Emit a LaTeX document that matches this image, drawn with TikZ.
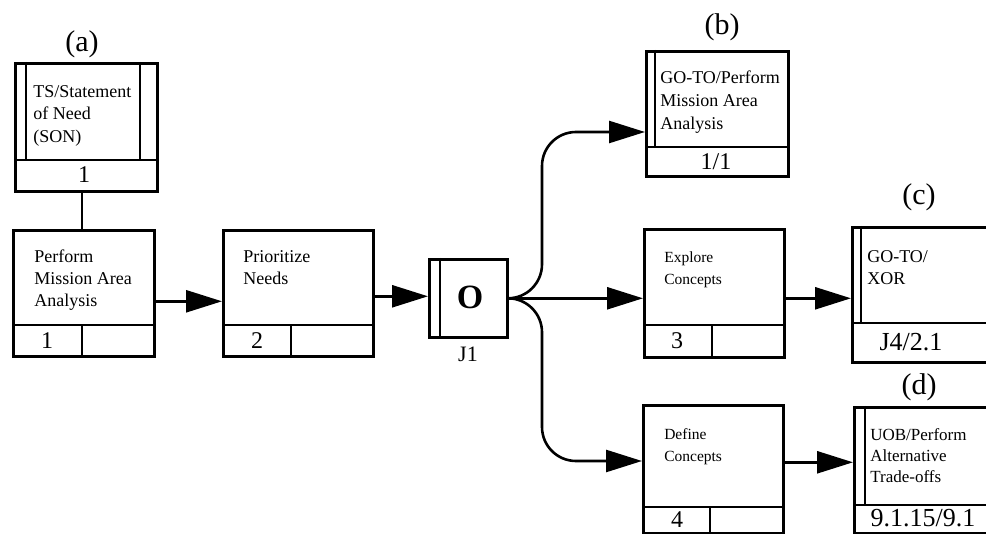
\documentclass[tikz,border=0pt]{standalone}
\usepackage{fontspec}
\setmainfont{Liberation Serif}
\usetikzlibrary{arrows.meta,calc}
\begin{document}
\begin{tikzpicture}[x=1pt,y=-1pt,line width=2.6pt,
  box/.style={draw,rectangle,inner sep=0pt,anchor=north west},
  lbl/.style={font=\fontsize{18}{22}\selectfont,align=left,anchor=north west,inner sep=0pt},
  lblsm/.style={lbl,font=\fontsize{15.5}{22}\selectfont},
  num/.style={font=\fontsize{24}{28}\selectfont,inner sep=0pt,anchor=base},
  numbig/.style={num,font=\fontsize{26}{30}\selectfont},
  tag/.style={font=\fontsize{30}{34}\selectfont,inner sep=0pt},
  arr/.style={-{Triangle[length=36pt,width=22pt]}},
]
\useasboundingbox (0,0) rectangle (986,534);

% (a) TS/Statement of Need
\node[box,minimum width=142pt,minimum height=128pt] (a) at (14,62) {};
\draw (14,160) -- (156,160);
\draw (26,62) -- (26,160);
\draw (140,62) -- (140,160);
\node[lbl,font=\fontsize{18}{22.5}\selectfont] (ta) at (32,84) {TS/Statement\\of Need\\(SON)};
\node[num] (na) at (84,183) {1};
\node[tag] (la) at (82,44) {(a)};

% box 1
\node[box,minimum width=141pt,minimum height=126pt] (p1) at (12,229) {};
\draw (12,325) -- (153,325);
\draw (82,325) -- (82,355);
\node[lbl] (t1) at (33,249) {Perform\\Mission Area\\Analysis};
\node[num] (n1) at (47,349) {1};

% box 2
\node[box,minimum width=150pt,minimum height=126pt] (p2) at (222,229) {};
\draw (222,325) -- (372,325);
\draw (291,325) -- (291,355);
\node[lbl] (t2) at (242,249) {Prioritize\\Needs};
\node[num] (n2) at (257,349) {2};

% J1
\node[box,minimum width=78pt,minimum height=78pt] (j) at (428,258) {};
\draw (440,258) -- (440,336);
\node[font=\fontsize{34}{38}\bfseries\selectfont,inner sep=0pt] (jo) at (470,297) {O};
\node[font=\fontsize{22}{26}\selectfont,inner sep=0pt] (jl) at (468,354) {J1};

% (b)
\node[box,minimum width=142pt,minimum height=125pt] (bb) at (645,50) {};
\draw (645,147) -- (787,147);
\draw (655,50) -- (655,147);
\node[lbl,font=\fontsize{18}{23}\selectfont] (tb) at (659,70) {GO-TO/Perform\\Mission Area\\Analysis};
\node[num] (nb) at (716,170) {1/1};
\node[tag] (lb) at (722,27) {(b)};
\coordinate (bin) at (645,132);

% box 3 Explore
\node[box,minimum width=140pt,minimum height=128pt] (ex) at (643,228) {};
\draw (643,325) -- (783,325);
\draw (712,325) -- (712,356);
\node[lblsm] (tex) at (663,250) {Explore\\Concepts};
\node[num] (n3) at (677,349) {3};

% box 4 Define
\node[box,minimum width=140pt,minimum height=128pt] (df) at (642,404) {};
\draw (642,507) -- (782,507);
\draw (710,507) -- (710,532);
\node[lblsm] (tdf) at (663,427) {Define\\Concepts};
\node[num] (n4) at (677,528) {4};
\coordinate (din) at (642,461);

% (c) and (d), cut by the right edge
\begin{scope}
\clip (0,0) rectangle (986,534);
\node[box,minimum width=160pt,minimum height=135pt] (cc) at (851,226) {};
\draw (851,323) -- (1011,323);
\draw (861,226) -- (861,323);
\node[box,minimum width=160pt,minimum height=126pt] (dd) at (853,406) {};
\draw (853,505) -- (1013,505);
\draw (865,406) -- (865,505);
\end{scope}
\node[lbl] (tc) at (866,249) {GO-TO/\\XOR};
\node[numbig] (nc) at (911,351) {J4/2.1};
\node[tag] (lc) at (919,197) {(c)};
\node[lbl,font=\fontsize{17}{21}\selectfont] (td) at (869,427) {UOB/Perform\\Alternative\\Trade-offs};
\node[numbig] (nd) at (923,527) {9.1.15/9.1};
\node[tag] (ld) at (919,387) {(d)};

% connectors
\draw (a.south -| 82,0) -- (82,229);
\draw[arr] ([yshift=-8pt]p1.east) -- ([yshift=-8pt]p1.east -| p2.west);
\draw[arr] ([yshift=-3pt]p2.east) -- ([yshift=-3pt]p2.east -| j.west);
\draw[arr,rounded corners=34pt] (j.east) -| ([xshift=-103pt]bin) -- (bin);
\draw[arr] (j.east) -- (j.east -| ex.west);
\draw[arr,rounded corners=34pt] (j.east) -| ([xshift=-100pt]din) -- (din);
\draw[arr] ([yshift=-5pt]ex.east) -- ([yshift=-5pt]ex.east -| cc.west);
\draw[arr] ([yshift=7pt]df.east) -- ([yshift=7pt]df.east -| dd.west);
\end{tikzpicture}
\end{document}
